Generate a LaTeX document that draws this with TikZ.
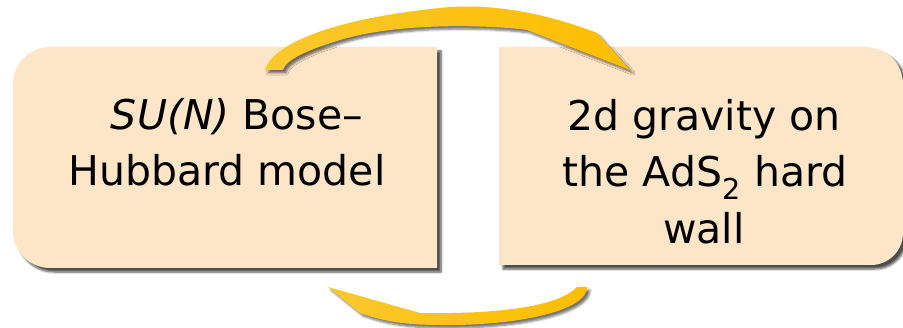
\documentclass[tikz,border=0pt]{standalone}
\usepackage{fontspec}
\setmainfont{DejaVu Sans}
\usetikzlibrary{shadows.blur}
\definecolor{boxfill}{RGB}{253,229,199}
\definecolor{arrA}{RGB}{251,200,45}
\definecolor{arrB}{RGB}{255,212,0}
\definecolor{arrC}{RGB}{252,190,0}
\begin{document}
\begin{tikzpicture}[x=1pt,y=-1pt,
  boxshadow/.style={blur shadow={shadow xshift=4pt,shadow yshift=-4pt,shadow blur steps=6,shadow opacity=70}},
  arrowshape/.style={left color=arrA,middle color=arrB,right color=arrC,
    blur shadow={shadow xshift=3pt,shadow yshift=-3pt,shadow blur steps=5,shadow opacity=55}},
  lbl/.style={anchor=base,inner sep=0pt,font=\fontsize{41}{56}\selectfont}]
\useasboundingbox (0,0) rectangle (903,328);
% left box
\path[fill=boxfill,boxshadow] (437,47) -- (50,47)
  .. controls (29.6,47) and (13,63.6) .. (13,84) -- (13,231)
  .. controls (13,251.4) and (29.6,268) .. (50,268) -- (437,268) -- cycle;
% right box
\path[fill=boxfill,boxshadow] (499,47) -- (866,47)
  .. controls (886.4,47) and (903,63.6) .. (903,84) -- (903,233)
  .. controls (903,250.7) and (888.7,265) .. (871,265) -- (499,265) -- cycle;
% labels
\node[lbl] (l1) at (237,130) {\textit{SU(N)} Bose–};
\node[lbl] (l2) at (227,186) {Hubbard model};
\node[lbl] (r1) at (704,131) {2d gravity on};
\node[lbl] (r2) at (705,187) {the AdS\textsubscript{2} hard};
\node[lbl] (r3) at (704,244) {wall};
% top arrow
\coordinate (ttailA) at (265,70);
\coordinate (ttailB) at (283,70);
\coordinate (ttip) at (630,70);
\path[arrowshape] (ttailA) .. controls (272,45) and (330,18) .. (450,7)
  .. controls (500,4) and (550,15) .. (597,33) -- (ttip) -- (527,30)
  .. controls (490,25) and (400,22) .. (340,40)
  .. controls (300,52) and (285,62) .. (ttailB) -- cycle;
% bottom arrow
\coordinate (btailA) at (577,287);
\coordinate (btailB) at (587,287);
\coordinate (btip) at (328,287);
\path[arrowshape] (btip) -- (420,313)
  .. controls (480,314) and (555,310) .. (btailA) -- (btailB)
  .. controls (588,310) and (520,326) .. (440,325)
  .. controls (400,325) and (380,320) .. (360,313) -- cycle;
\end{tikzpicture}
\end{document}
